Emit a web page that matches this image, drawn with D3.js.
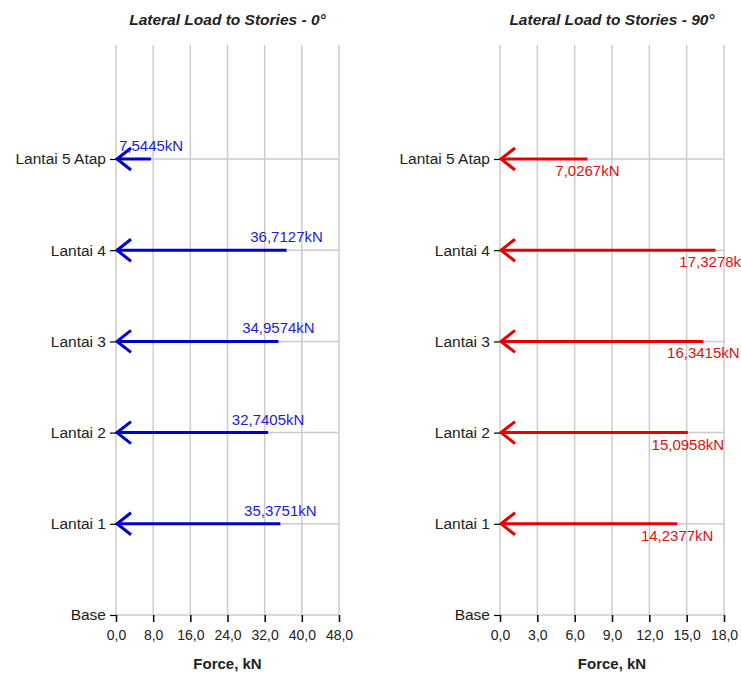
<!DOCTYPE html>
<html>
<head>
<meta charset="utf-8">
<script src="https://cdn.jsdelivr.net/npm/d3@7"></script>
<style>
  body { margin: 0; background: #fff; }
  svg { font-family: "Liberation Sans", Arial, sans-serif; }
</style>
</head>
<body>
<svg id="chart" width="741" height="675"></svg>
<script>
// stories from bottom to top
const stories = ['Base', 'Lantai 1', 'Lantai 2', 'Lantai 3', 'Lantai 4', 'Lantai 5 Atap'];
const loadedStories = ['Lantai 1', 'Lantai 2', 'Lantai 3', 'Lantai 4', 'Lantai 5 Atap'];
const force0 = [35.3751, 32.7405, 34.9574, 36.7127, 7.5445];
const force90 = [14.2377, 15.0958, 16.3415, 17.3278, 7.0267];
const ticks0 = [0, 8, 16, 24, 32, 40, 48];
const ticks90 = [0, 3, 6, 9, 12, 15, 18];

const svg = d3.select('#chart');
const fmt = v => d3.format('.1f')(v).replace('.', ',');
const fmtLoad = v => d3.format('.4f')(v).replace('.', ',') + 'kN';

const y = d3.scaleLinear().domain([0, 6.25]).range([615, 45]);

const panels = [
    { title: 'Lateral Load to Stories - 0\u00b0', left: 116, right: 339, max: 48, ticks: ticks0,
      values: force0, line: '#0000cc', text: '#1c1cd8', above: true },
    { title: 'Lateral Load to Stories - 90\u00b0', left: 500, right: 724, max: 18, ticks: ticks90,
      values: force90, line: '#e60000', text: '#e01010', above: false },
];

panels.forEach(p => {
    const x = d3.scaleLinear().domain([0, p.max]).range([p.left, p.right]);
    const g = svg.append('g');

    // vertical grid
    g.selectAll('.vgrid').data(p.ticks).join('line')
        .attr('x1', d => x(d)).attr('x2', d => x(d))
        .attr('y1', y.range()[1]).attr('y2', y(0))
        .attr('stroke', '#cccccc').attr('stroke-width', 1.5);

    // horizontal grid at each story
    g.selectAll('.hgrid').data(stories).join('line')
        .attr('x1', x(0)).attr('x2', x(p.max))
        .attr('y1', (d, i) => y(i)).attr('y2', (d, i) => y(i))
        .attr('stroke', '#cccccc').attr('stroke-width', 1.5);

    // x axis
    const xAxis = d3.axisBottom(x).tickValues(p.ticks).tickFormat(fmt).tickSize(7).tickSizeOuter(0);
    const gx = g.append('g').attr('transform', `translate(0,${y(0)})`).call(xAxis);
    gx.select('.domain').remove();
    gx.selectAll('.tick line').attr('stroke', '#000').attr('stroke-width', 1.5);
    gx.selectAll('.tick text').attr('font-size', 14).attr('fill', '#222').attr('dy', '1.1em');

    // y axis
    const yAxis = d3.axisLeft(y).tickValues(d3.range(stories.length))
        .tickFormat(i => stories[i]).tickSize(6).tickSizeOuter(0);
    const gy = g.append('g').attr('transform', `translate(${x(0)},0)`).call(yAxis);
    gy.select('.domain').remove();
    gy.selectAll('.tick line').attr('stroke', '#000').attr('stroke-width', 1.2);
    gy.selectAll('.tick text').attr('font-size', 15.5).attr('fill', '#222').attr('x', -10);

    // titles
    g.append('text')
        .attr('x', (p.left + p.right) / 2).attr('y', 25)
        .attr('text-anchor', 'middle').attr('font-size', 15.5)
        .attr('font-style', 'italic').attr('font-weight', 'bold').attr('fill', '#222')
        .text(p.title);
    g.append('text')
        .attr('x', (p.left + p.right) / 2).attr('y', 669)
        .attr('text-anchor', 'middle').attr('font-size', 15)
        .attr('font-weight', 'bold').attr('fill', '#222')
        .text('Force, kN');

    // arrows
    const arrows = g.selectAll('.arrow').data(p.values).join('g');
    arrows.append('line')
        .attr('x1', x(0) + 1).attr('x2', d => x(d))
        .attr('y1', (d, i) => y(stories.indexOf(loadedStories[i])))
        .attr('y2', (d, i) => y(stories.indexOf(loadedStories[i])))
        .attr('stroke', p.line).attr('stroke-width', 3);
    arrows.append('path')
        .attr('d', (d, i) => {
            const yy = y(stories.indexOf(loadedStories[i]));
            const x0 = x(0) + 1;
            return `M${x0 + 14},${yy - 11}L${x0},${yy}L${x0 + 14},${yy + 11}`;
        })
        .attr('fill', 'none').attr('stroke', p.line).attr('stroke-width', 3);
    arrows.append('text')
        .attr('x', d => x(d))
        .attr('y', (d, i) => y(stories.indexOf(loadedStories[i])) + (p.above ? -8 : 17))
        .attr('text-anchor', 'middle').attr('font-size', 15)
        .attr('fill', p.text)
        .text(d => fmtLoad(d));
});
</script>
</body>
</html>
